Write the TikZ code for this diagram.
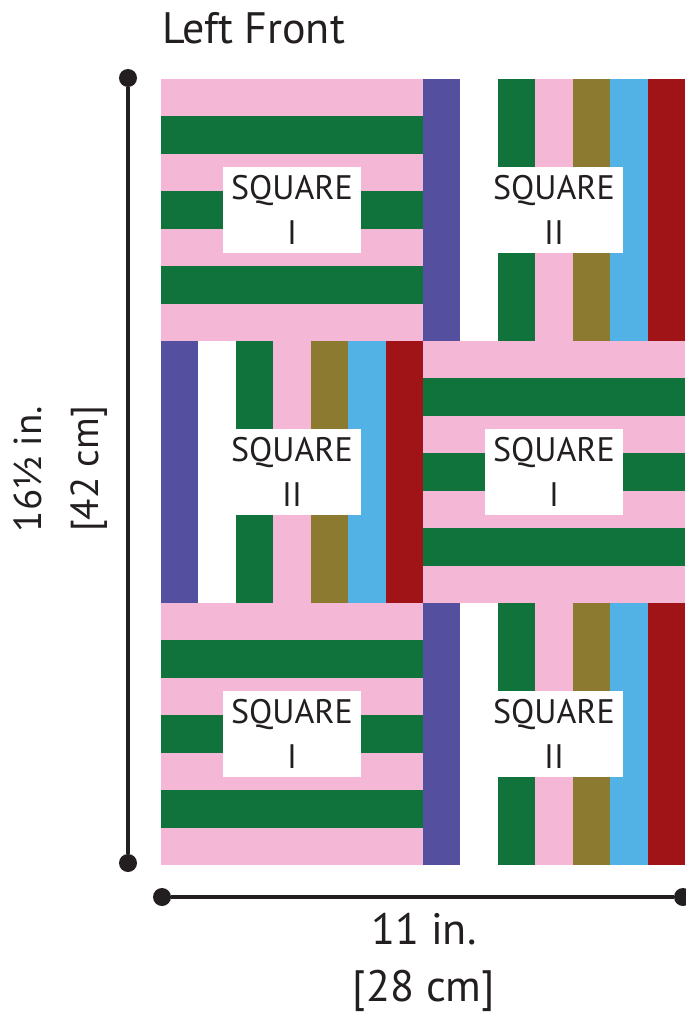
\documentclass[tikz,border=0pt]{standalone}
\usepackage{fontspec}
\setmainfont{PT Sans}
\definecolor{txt}{HTML}{231F20}
\definecolor{qpink}{HTML}{F5B7D6}
\definecolor{qgreen}{HTML}{11733C}
\definecolor{qpurple}{HTML}{554FA0}
\definecolor{qolive}{HTML}{8B7A30}
\definecolor{qblue}{HTML}{52B2E5}
\definecolor{qred}{HTML}{A01418}
\begin{document}
\begin{tikzpicture}[x=1pt,y=-1pt,
		lbl/.style={fill=white,minimum width=138pt,minimum height=86pt,inner sep=0pt,align=center,text=txt,font=\fontsize{34}{45}\selectfont},
		dot/.style={circle,fill=txt,inner sep=0pt,minimum size=18pt},
		dim/.style={draw=txt,line width=4pt},
		dimtext/.style={text=txt,align=center,inner sep=0pt}]
				\useasboundingbox (0,0) rectangle (685,1014);
				%square I, horizontal stripes
				\foreach \x/\y/\n in {161/79/a,423/341/b,161/603/c}{
					\fill[qpink] (\x,\y) rectangle ++(262,262);
					\foreach \k in {1,3,5}
						\fill[qgreen] (\x,\y+\k*37.43) rectangle ++(262,37.43);
					\node[lbl] (sqI\n) at (\x+131,\y+131) {SQUARE\\I};
				}
				%square II, vertical stripes
				\foreach \x/\y/\n in {423/79/a,161/341/b,423/603/c}{
					\foreach \c [count=\k from 0] in {qpurple,white,qgreen,qpink,qolive,qblue,qred}
						\fill[\c] (\x+\k*37.43,\y) rectangle ++(37.43,262);
					\node[lbl] (sqII\n) at (\x+131,\y+131) {SQUARE\\II};
				}
				%title
				\node[anchor=base west,text=txt,inner sep=0pt,font=\fontsize{44}{50}\selectfont] (title) at (162,44) {Left Front};
				%height
				\node[dot] (vtop) at (128,78) {};
				\node[dot] (vbot) at (128,863) {};
				\draw[dim] (vtop) -- (vbot);
				\node[dimtext,rotate=90,font=\fontsize{39}{57}\selectfont] (height) at (61,469) {16½ in.\\{[42 cm]}};
				%width
				\node[dot] (hleft) at (162,897) {};
				\node[dot] (hright) at (683,897) {};
				\draw[dim] (hleft) -- (hright);
				\node[dimtext,font=\fontsize{44}{57}\selectfont] (width) at (424,962) {11 in.\\{[28 cm]}};
\end{tikzpicture}
\end{document}
